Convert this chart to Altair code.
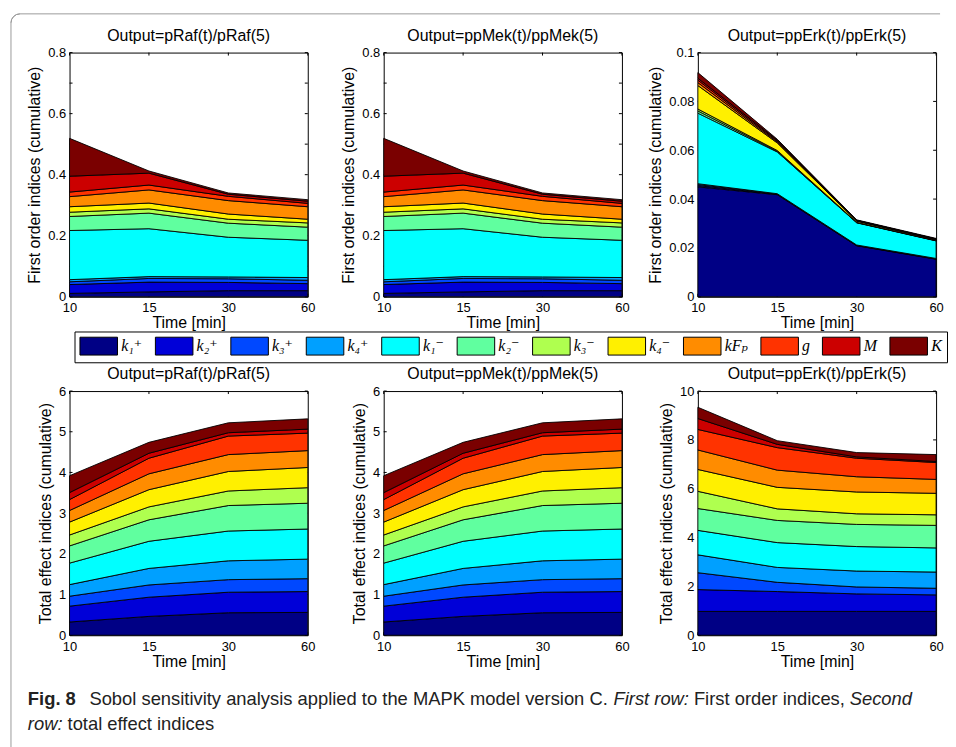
import math
import altair as alt
import pandas as pd

# ---------------- data ----------------
params = ["k1+", "k2+", "k3+", "k4+", "k1-", "k2-", "k3-", "k4-", "kFp", "g", "M", "K"]
param_labels = ["k₁⁺", "k₂⁺", "k₃⁺", "k₄⁺", "k₁⁻", "k₂⁻", "k₃⁻", "k₄⁻", "kFₚ", "g", "M", "K"]
param_colors = ["#000085", "#0000D8", "#0048FF", "#00A0FF", "#00FFFF", "#60FF9F",
                "#AFFF4F", "#FFF000", "#FF8C00", "#FF3300", "#CC0000", "#7A0000"]
time_labels = ["10", "15", "30", "60"]

# first order indices, one row per parameter, one column per time point
first_praf = [
    [0.011, 0.016, 0.020, 0.020],
    [0.029, 0.032, 0.027, 0.023],
    [0.009, 0.012, 0.012, 0.011],
    [0.007, 0.006, 0.006, 0.009],
    [0.161, 0.157, 0.130, 0.122],
    [0.046, 0.051, 0.046, 0.043],
    [0.014, 0.014, 0.013, 0.014],
    [0.018, 0.019, 0.017, 0.012],
    [0.033, 0.043, 0.044, 0.041],
    [0.015, 0.016, 0.014, 0.011],
    [0.052, 0.039, 0.007, 0.007],
    [0.124, 0.007, 0.004, 0.005],
]
first_ppmek = [row[:] for row in first_praf]
first_pperk = [
    [0.0450, 0.0418, 0.0209, 0.0154],
    [0.0005, 0.0002, 0.0001, 0.0001],
    [0.0004, 0.0001, 0.0001, 0.0001],
    [0.0004, 0.0001, 0.0001, 0.0001],
    [0.0289, 0.0171, 0.0091, 0.0072],
    [0.0009, 0.0003, 0.0001, 0.0001],
    [0.0008, 0.0003, 0.0001, 0.0001],
    [0.0096, 0.0031, 0.0005, 0.0003],
    [0.0012, 0.0004, 0.0001, 0.0001],
    [0.0010, 0.0004, 0.0001, 0.0001],
    [0.0008, 0.0004, 0.0001, 0.0001],
    [0.0023, 0.0003, 0.0002, 0.0002],
]
# total effect indices
total_praf = [
    [0.325, 0.463, 0.553, 0.561],
    [0.390, 0.472, 0.504, 0.512],
    [0.244, 0.301, 0.309, 0.317],
    [0.285, 0.406, 0.463, 0.480],
    [0.528, 0.667, 0.732, 0.740],
    [0.423, 0.528, 0.626, 0.634],
    [0.268, 0.317, 0.358, 0.382],
    [0.317, 0.423, 0.479, 0.496],
    [0.285, 0.390, 0.415, 0.415],
    [0.268, 0.383, 0.455, 0.430],
    [0.171, 0.122, 0.082, 0.098],
    [0.415, 0.268, 0.244, 0.252],
]
total_ppmek = [row[:] for row in total_praf]
total_pperk = [
    [0.976, 0.976, 0.976, 0.976],
    [0.894, 0.813, 0.718, 0.677],
    [0.691, 0.379, 0.284, 0.271],
    [0.732, 0.610, 0.651, 0.664],
    [1.002, 1.016, 1.002, 0.989],
    [0.895, 0.908, 0.908, 0.922],
    [0.704, 0.474, 0.434, 0.433],
    [0.895, 0.881, 0.894, 0.881],
    [0.799, 0.705, 0.624, 0.569],
    [0.840, 0.921, 0.758, 0.691],
    [0.447, 0.135, 0.055, 0.041],
    [0.461, 0.149, 0.176, 0.284],
]

yticks_first_a = [0, 0.1, 0.2, 0.3, 0.4, 0.5, 0.6, 0.7, 0.8]
yticks_first_b = [0, 0.02, 0.04, 0.06, 0.08, 0.1]
yticks_total_a = [0, 1, 2, 3, 4, 5, 6]
yticks_total_b = [0, 2, 4, 6, 8, 10]

titles = ["Output=pRaf(t)/pRaf(5)", "Output=ppMek(t)/ppMek(5)", "Output=ppErk(t)/ppErk(5)"]

W, H = 240, 246
FONT = "Liberation Sans, Arial, sans-serif"

label_expr = "[" + ",".join("'%s'" % s for s in time_labels) + "][datum.value]"


def long_df(values):
    rows = []
    for i, (p, lab) in enumerate(zip(params, param_labels)):
        for t in range(len(time_labels)):
            rows.append({"t": t, "param": p, "label": lab, "order": i, "value": values[i][t]})
    return pd.DataFrame(rows)


def panel(values, yticks, title, ytitle, extra=None):
    ymax = yticks[-1]
    xscale = alt.Scale(domain=[0, len(time_labels) - 1], nice=False, zero=False)
    yscale = alt.Scale(domain=[0, ymax], nice=False)
    xt = pd.DataFrame({"t": list(range(len(time_labels)))})
    yt = pd.DataFrame({"value": yticks})
    tick_top = alt.Chart(xt).mark_rule(color="black", strokeWidth=1).encode(
        x=alt.X("t:Q", scale=xscale), y=alt.value(0), y2=alt.value(3))
    tick_bot = alt.Chart(xt).mark_rule(color="black", strokeWidth=1).encode(
        x=alt.X("t:Q", scale=xscale), y=alt.value(H - 3), y2=alt.value(H))
    tick_left = alt.Chart(yt).mark_rule(color="black", strokeWidth=1).encode(
        y=alt.Y("value:Q", scale=yscale), x=alt.value(0), x2=alt.value(3))
    tick_right = alt.Chart(yt).mark_rule(color="black", strokeWidth=1).encode(
        y=alt.Y("value:Q", scale=yscale), x=alt.value(W - 3), x2=alt.value(W))
    area = alt.Chart(long_df(values)).mark_area(
        stroke="black", strokeWidth=0.9, opacity=1, interpolate="linear"
    ).encode(
        x=alt.X("t:Q", scale=xscale,
                axis=alt.Axis(values=list(range(len(time_labels))), labelExpr=label_expr,
                              title="Time [min]", labelFlush=False, labelOverlap=False,
                              labelPadding=5, titlePadding=0)),
        y=alt.Y("value:Q", stack="zero", scale=yscale,
                axis=alt.Axis(values=yticks, format="~r", title=ytitle,
                              labelPadding=4, titlePadding=5)),
        color=alt.Color("label:N", scale=alt.Scale(domain=param_labels, range=param_colors),
                        legend=alt.Legend(
                            orient="none", legendX=5, legendY=281, direction="horizontal",
                            columns=12, title=None,
                            symbolType="M-1,-1H3.2V1H-1Z", symbolSize=324,
                            symbolStrokeColor="black", symbolStrokeWidth=1, symbolOpacity=1,
                            labelFont="Liberation Serif, DejaVu Serif, serif",
                            labelFontStyle="italic", labelFontSize=16, labelColor="black",
                            labelOffset=23, columnPadding=10, padding=5,
                            strokeColor="black", fillColor="white")),
        order=alt.Order("order:Q", sort="ascending"),
    )
    head = alt.Chart(pd.DataFrame({"s": [title]})).mark_text(
        align="center", baseline="alphabetic", font=FONT, fontSize=16, color="black"
    ).encode(text="s:N", x=alt.value(W / 2), y=alt.value(-12))
    layers = [tick_top, tick_bot, tick_left, tick_right, area, head]
    if extra:
        layers += extra
    return alt.layer(*layers).properties(width=W, height=H)


# ---------------- caption and page frame (placed relative to bottom-left panel) ----------------
CAP_FONT = "Liberation Sans, Arial, sans-serif"
FRAME = "#9a9a9a"
R = 9
fx, fy = 8 - 67, 12 - 392          # frame corner (top-left), relative to the panel
one = pd.DataFrame({"a": [0]})
frame_top = alt.Chart(one).mark_rule(color=FRAME, strokeWidth=1).encode(
    x=alt.value(fx + R), x2=alt.value(944 - 67), y=alt.value(fy))
frame_left = alt.Chart(one).mark_rule(color=FRAME, strokeWidth=1).encode(
    x=alt.value(fx), y=alt.value(fy + R), y2=alt.value(790 - 392))
frame_corner = alt.Chart(one).mark_arc(
    fill=None, stroke=FRAME, strokeWidth=1, radius=R, radius2=R,
    theta=1.5 * math.pi, theta2=2 * math.pi
).encode(x=alt.value(fx + R), y=alt.value(fy + R))


def cap(text, x, y, weight="normal", style="normal"):
    return alt.Chart(pd.DataFrame({"s": [text]})).mark_text(
        align="left", baseline="alphabetic", font=CAP_FONT, fontSize=18.5,
        fontWeight=weight, fontStyle=style, color="#222222"
    ).encode(text="s:N", x=alt.value(x), y=alt.value(y))


caption = [
    frame_top, frame_left, frame_corner,
    cap("Fig. 8", 25 - 67, 708 - 392, weight="bold"),
    cap("Sobol sensitivity analysis applied to the MAPK model version C.", 87 - 67, 708 - 392),
    cap("First row:", 615 - 67, 708 - 392, style="italic"),
    cap("First order indices,", 696 - 67, 708 - 392),
    cap("Second", 853 - 67, 708 - 392, style="italic"),
    cap("row:", 25 - 67, 733 - 392, style="italic"),
    cap("total effect indices", 65 - 67, 733 - 392),
]

p1 = panel(first_praf, yticks_first_a, titles[0], "First order indices (cumulative)")
p2 = panel(first_ppmek, yticks_first_a, titles[1], "First order indices (cumulative)")
p3 = panel(first_pperk, yticks_first_b, titles[2], "First order indices (cumulative)")
p4 = panel(total_praf, yticks_total_a, titles[0], "Total effect indices (cumulative)", extra=caption)
p5 = panel(total_ppmek, yticks_total_a, titles[1], "Total effect indices (cumulative)")
p6 = panel(total_pperk, yticks_total_b, titles[2], "Total effect indices (cumulative)")

chart = alt.concat(
    p1, p2, p3, p4, p5, p6, columns=3,
    spacing={"row": 95, "column": 76.5}, bounds="flush"
).properties(
    padding={"left": 0, "top": 0, "right": 0, "bottom": 0},
    background="white"
).configure_view(
    stroke="black", strokeWidth=1
).configure_axis(
    domain=False, ticks=False, grid=False,
    labelFont=FONT, labelFontSize=13, labelColor="black",
    titleFont=FONT, titleFontSize=16, titleFontWeight="normal", titleColor="black"
)

chart.save("out.html", embed_options={"renderer": "svg", "actions": False})
